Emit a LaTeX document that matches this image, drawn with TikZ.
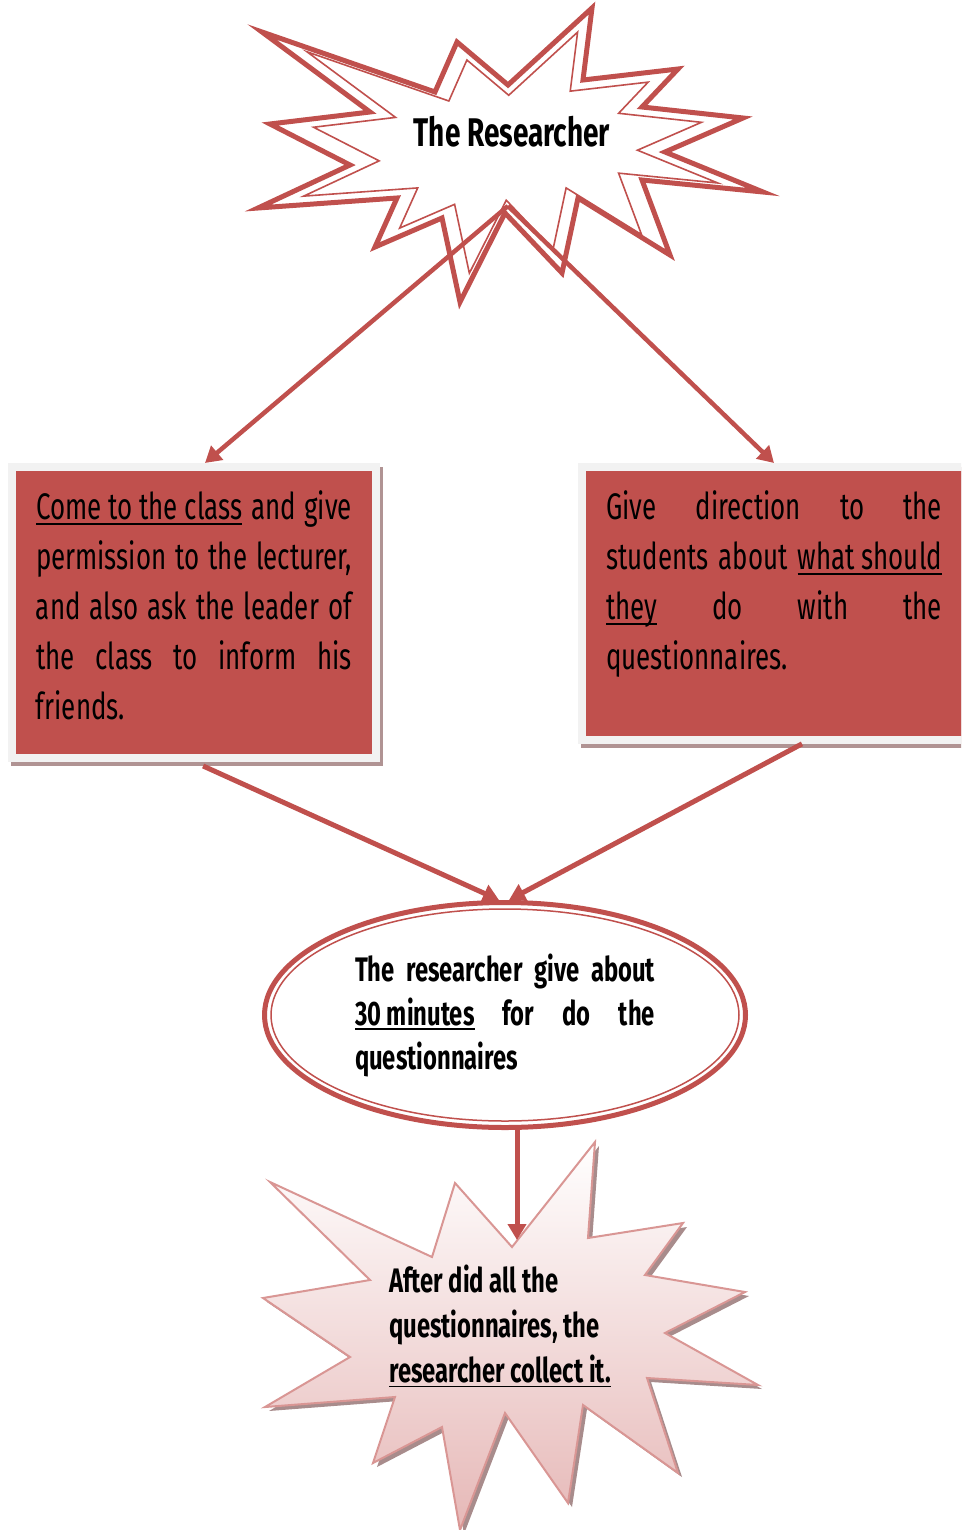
\documentclass[tikz,border=0pt]{standalone}
\usepackage{fontspec}
\setmainfont[FakeStretch=0.7]{Fira Sans}
\usetikzlibrary{arrows.meta,shapes.geometric}
\definecolor{burstred}{HTML}{C0504D}
\definecolor{framegray}{HTML}{F2F2F2}
\definecolor{cardshadow}{HTML}{B09393}
\definecolor{pinkline}{HTML}{D99694}
\definecolor{pinkfill}{HTML}{E6B8B7}
\definecolor{pinkshadow}{HTML}{A88C8C}

\newsavebox{\undlbox}
\newcommand{\undl}[1]{\sbox{\undlbox}{#1}\rlap{\rule[-5pt]{\wd\undlbox}{1.6pt}}\usebox{\undlbox}}

\newcommand{\bursttop}{(262,32) -- (435,92) -- (457,42) -- (508,85) -- (592,8) -- (583,80) -- (678,69) -- (642,107) -- (743,118) -- (665,152) -- (763,192) -- (642,180) -- (670,255) -- (578,198) -- (562,273) -- (505,213) -- (460,302) -- (442,218) -- (375,247) -- (397,198) -- (258,208) -- (350,165) -- (270,124) -- (370,112) -- cycle}
\newcommand{\burstlow}{(270,1182) -- (432,1257) -- (455,1183) -- (512,1247) -- (595,1142) -- (588,1238) -- (683,1223) -- (645,1275) -- (745,1292) -- (665,1333) -- (758,1385) -- (647,1378) -- (678,1473) -- (583,1405) -- (568,1503) -- (505,1413) -- (460,1530) -- (442,1427) -- (373,1463) -- (395,1397) -- (265,1407) -- (350,1357) -- (263,1298) -- (370,1280) -- cycle}

\tikzset{
  link/.style={draw=burstred, line width=4.5pt, -{Triangle[length=16pt,width=18pt]}},
  card/.style={fill=burstred, inner xsep=20pt, inner ysep=20pt, outer sep=8pt,
    align=justify, anchor=north west, font={\fontsize{37}{50}\selectfont},
    preaction={draw=cardshadow, line width=16pt, transform canvas={shift={(3pt,-4pt)}}},
    preaction={draw=framegray, line width=16pt}},
  ring/.style={ellipse, draw=burstred, line width=5pt, minimum width=481pt,
    minimum height=225pt, inner sep=0pt, text width=300pt, align=justify,
    font={\bfseries\fontsize{34}{44}\selectfont}}
}

\begin{document}
\begin{tikzpicture}[x=1pt,y=-1pt]
\useasboundingbox (0,0) rectangle (961,1530);
\clip (0,0) rectangle (961,1530);

\draw[burstred, line width=5pt] \bursttop;
\draw[burstred, line width=1.6pt, scale around={0.82:(512,142)}] \bursttop;
\node[font={\bfseries\fontsize{40}{48}\selectfont}] (boss) at (512,132) {The Researcher};
\coordinate (topdent) at (508,206);

\node[card, text width=316pt] (come) at (8,463)
  {\undl{Come to the class} and give\linebreak permission to the lecturer,\linebreak and also ask the leader of\linebreak the class to inform his\linebreak friends.\rule[-14pt]{0pt}{1pt}};
\node[card, text width=336pt] (direct) at (578,463)
  {Give direction to the\linebreak students about \undl{what should}\linebreak \undl{they} do with the\linebreak questionnaires.\rule[-46pt]{0pt}{1pt}};

\draw[link] (topdent) -- ([xshift=11pt]come.north);
\draw[link] (topdent) -- (direct.north);

\node[ring] (give) at (505,1015)
  {The researcher give about\linebreak \undl{30 minutes} for do the\linebreak questionnaires};
\draw[burstred, line width=1.5pt] (give.center) ellipse [x radius=234, y radius=106];

\draw[link, line width=5pt, shorten <=10pt] (come.south) -- ([xshift=-6pt]give.north);
\draw[link, line width=5pt] ([xshift=28pt]direct.south) -- ([xshift=4pt]give.north);

\fill[pinkshadow, shift={(4,4)}] \burstlow;
\shade[top color=white, bottom color=pinkfill, draw=pinkline, line width=2pt] \burstlow;
\node[align=left, font={\bfseries\fontsize{34}{45}\selectfont}] (collect) at (500,1326)
  {After did all the\\ questionnaires, the\\ \undl{researcher collect it.}};
\coordinate (lowdent) at (517,1240);

\draw[link, line width=5pt] ([xshift=12pt]give.south) -- (lowdent);
\end{tikzpicture}
\end{document}
